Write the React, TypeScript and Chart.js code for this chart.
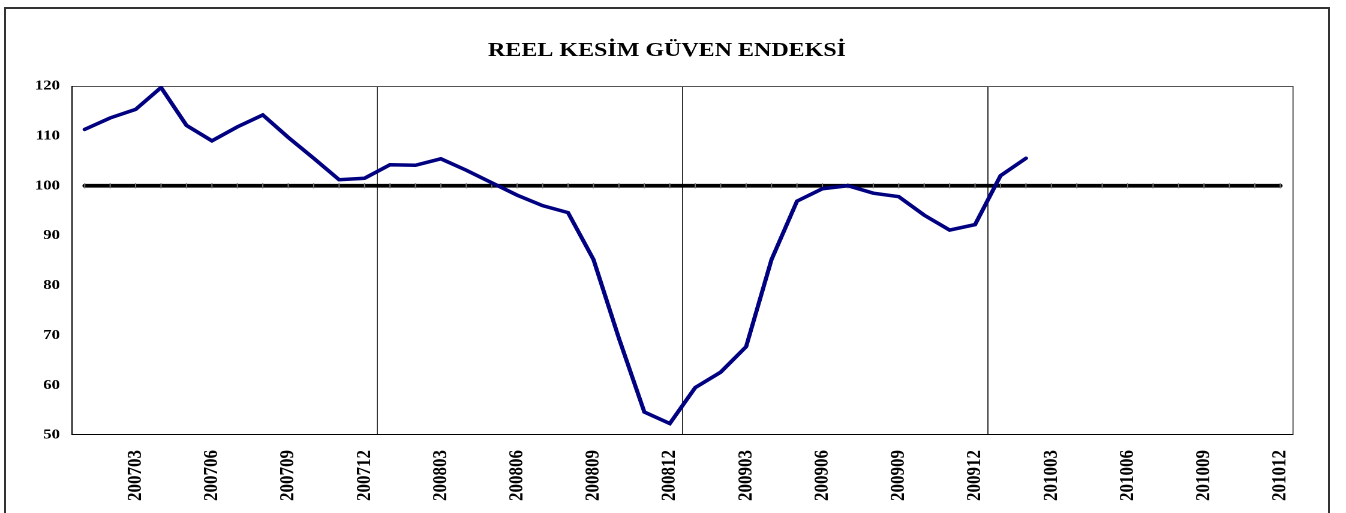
import React, { useEffect, useRef } from "react";
import { Chart, registerables } from "chart.js";

Chart.register(...registerables);

// ---- data ----
const months = [
  "200701", "200702", "200703", "200704", "200705", "200706", "200707", "200708", "200709", "200710", "200711", "200712",
  "200801", "200802", "200803", "200804", "200805", "200806", "200807", "200808", "200809", "200810", "200811", "200812",
  "200901", "200902", "200903", "200904", "200905", "200906", "200907", "200908", "200909", "200910", "200911", "200912",
  "201001", "201002", "201003", "201004", "201005", "201006", "201007", "201008", "201009", "201010", "201011", "201012",
];

const tickMonths = [
  "200703", "200706", "200709", "200712", "200803", "200806", "200809", "200812",
  "200903", "200906", "200909", "200912", "201003", "201006", "201009", "201012",
];

const confidenceIndex = [
  111.3, 113.6, 115.3, 119.7, 112.1, 109.0, 111.8, 114.2, 109.7, 105.5, 101.2, 101.5,
  104.2, 104.1, 105.4, 103.1, 100.6, 98.1, 96.0, 94.6, 85.2, 69.4, 54.6, 52.3,
  59.5, 62.6, 67.7, 85.2, 96.9, 99.4, 100.0, 98.5, 97.8, 94.1, 91.1, 92.2,
  102.0, 105.5,
];

const baselineLevel = 100;
const yMin = 50;
const yMax = 120;
const yStep = 10;
const chartTitle = "REEL KESİM GÜVEN ENDEKSİ";

// ---- layout ----
const PAGE_W = 1346;
const PAGE_H = 513;
const W = 1122; // internal canvas width, stretched horizontally to PAGE_W
const S = PAGE_W / W;
const FONT = '"Liberation Serif", "Times New Roman", serif';

const titlePlugin = {
  id: "titleText",
  afterDraw(chart: any) {
    const ctx = chart.ctx;
    ctx.save();
    ctx.font = `bold 20px ${FONT}`;
    ctx.fillStyle = "#000";
    ctx.textAlign = "center";
    ctx.textBaseline = "alphabetic";
    ctx.fillText(chartTitle, 667 / S, 56);
    ctx.restore();
  },
};

const framePlugin = {
  id: "plotFrame",
  beforeDatasetsDraw(chart: any) {
    const { ctx, chartArea } = chart;
    const { left, right, top, bottom } = chartArea;
    ctx.save();
    ctx.lineWidth = 1;
    ctx.strokeStyle = "#555";
    ctx.beginPath();
    ctx.moveTo(left, top + 0.5);
    ctx.lineTo(right, top + 0.5);
    ctx.moveTo(right, top);
    ctx.lineTo(right, bottom);
    ctx.stroke();
    ctx.strokeStyle = "#000";
    ctx.beginPath();
    ctx.moveTo(left, top);
    ctx.lineTo(left, bottom);
    ctx.moveTo(left, bottom - 0.5);
    ctx.lineTo(right, bottom - 0.5);
    ctx.stroke();
    ctx.restore();
  },
};

export default function App() {
  const canvasRef = useRef<HTMLCanvasElement | null>(null);

  useEffect(() => {
    const canvas = canvasRef.current;
    if (!canvas) return;
    const chart = new Chart(canvas, {
      type: "line",
      data: {
        labels: months,
        datasets: [
          {
            label: "Reel Kesim Güven Endeksi",
            data: confidenceIndex,
            borderColor: "#000080",
            borderWidth: 3.5,
            pointRadius: 0,
            tension: 0,
            borderCapStyle: "round",
            fill: false,
          },
          {
            label: "100",
            data: months.map(() => baselineLevel),
            borderColor: "#000",
            borderWidth: 3.8,
            pointStyle: "line",
            pointRotation: 90,
            pointRadius: 2.6,
            pointBorderColor: "#777",
            pointBorderWidth: 1,
            pointBackgroundColor: "#777",
            tension: 0,
            borderCapStyle: "round",
            fill: false,
          },
        ],
      },
      options: {
        animation: false,
        responsive: false,
        devicePixelRatio: 2,
        events: [],
        layout: {
          padding: { left: 0, right: W - 1293 / S, top: 86, bottom: 0 },
        },
        plugins: {
          legend: { display: false },
          tooltip: { enabled: false },
          title: { display: false },
        },
        scales: {
          x: {
            type: "category",
            offset: true,
            grid: {
              display: true,
              offset: true,
              drawTicks: false,
              drawOnChartArea: true,
              lineWidth: 1,
              color: (ctx: any) => {
                const m = months[ctx.index];
                return m && ctx.index > 0 && m.endsWith("01") ? "#333" : "rgba(0,0,0,0)";
              },
            },
            border: { display: false },
            ticks: {
              autoSkip: false,
              maxRotation: 90,
              minRotation: 90,
              padding: 15,
              color: "#000",
              font: { family: FONT, size: 17, weight: "bold" },
              callback: (_v: any, i: number) => (tickMonths.includes(months[i]) ? months[i] : ""),
            },
            afterFit: (scale: any) => {
              scale.height = PAGE_H - 435;
            },
          },
          y: {
            min: yMin,
            max: yMax,
            grid: { display: false, drawTicks: false },
            border: { display: false },
            ticks: {
              stepSize: yStep,
              padding: 10,
              color: "#000",
              font: { family: FONT, size: 14, weight: "bold" },
            },
            afterFit: (scale: any) => {
              scale.width = 72 / S;
            },
          },
        },
      },
      plugins: [titlePlugin, framePlugin],
    });
    return () => chart.destroy();
  }, []);

  return (
    <div
      style={{
        position: "fixed",
        left: 0,
        top: 0,
        width: PAGE_W,
        height: PAGE_H,
        overflow: "hidden",
        background: "#fff",
      }}
    >
      <canvas
        ref={canvasRef}
        width={W}
        height={PAGE_H}
        style={{ position: "absolute", left: 0, top: 0, width: `${PAGE_W}px`, height: `${PAGE_H}px` }}
      />
      <div
        style={{
          position: "absolute",
          left: 4,
          top: 7,
          width: 1326,
          height: 560,
          border: "2px solid #333",
          boxSizing: "border-box",
          pointerEvents: "none",
        }}
      />
    </div>
  );
}
